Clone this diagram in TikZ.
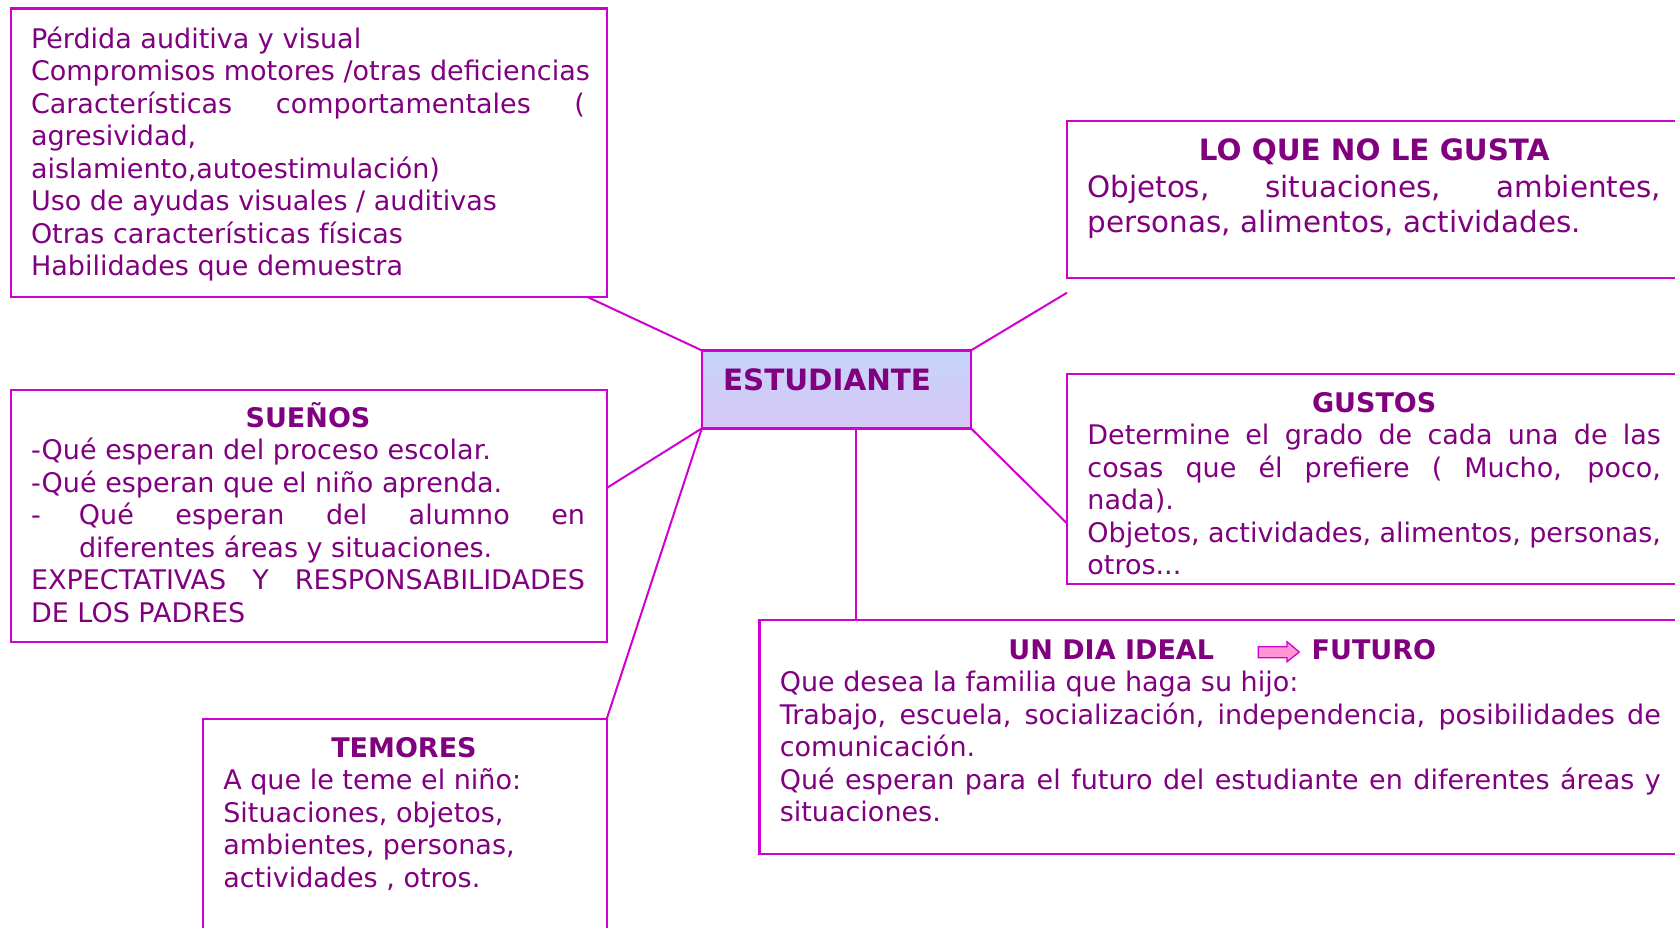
\documentclass[tikz,border=0pt]{standalone}
\usepackage{fontspec}
\setmainfont{DejaVu Sans}
\definecolor{mag}{RGB}{208,0,208}
\definecolor{purp}{RGB}{128,0,128}
\definecolor{cenA}{RGB}{196,214,250}
\definecolor{cenB}{RGB}{214,200,246}
\definecolor{arrfill}{RGB}{255,150,210}
\newcommand\jl[2]{\makebox[#1pt][s]{#2}}
\newcommand\fst[1]{\rule{0pt}{#1pt}}
\tikzset{
  box/.style={draw=mag, line width=2.2pt, rectangle, inner sep=0pt, outer sep=0pt, anchor=north west},
  body/.style={text=purp, align=left, inner sep=0pt, outer sep=0pt, anchor=north west, font=\fontsize{27}{32.5}\selectfont},
  bigbody/.style={body, font=\fontsize{29.4}{35.2}\selectfont},
  ttl/.style={text=purp, inner sep=0pt, outer sep=0pt, anchor=base, font=\bfseries\fontsize{27}{32.5}\selectfont},
  bigttl/.style={ttl, font=\bfseries\fontsize{29.4}{35.2}\selectfont},
  conn/.style={draw=mag, line width=2pt}
}
\begin{document}
\begin{tikzpicture}[x=1pt,y=-1pt]
\useasboundingbox (0,0) rectangle (1675,928);
\clip (0,0) rectangle (1675,928);

% boxes
\node[box, minimum width=596pt, minimum height=288.5pt] (b1) at (10.7,8.5) {};
\node[box, minimum width=623pt, minimum height=157pt] (blo) at (1067,120.7) {};
\node[box, minimum width=623pt, minimum height=210pt] (bgu) at (1067,374) {};
\node[box, minimum width=596pt, minimum height=252pt] (bsu) at (10.7,390) {};
\node[box, minimum width=403.7pt, minimum height=240pt] (bte) at (203,719) {};
\node[box, minimum width=930pt, minimum height=234pt] (bun) at (759.5,619.6) {};
\node[box, minimum width=269.2pt, minimum height=78pt, top color=cenA, bottom color=cenB, middle color=cenB!60!cenA] (cen) at (701.8,350.4) {};

% connectors
\coordinate (loend) at (1067,292.7);
\coordinate (c6a) at ([xshift=19.2pt]cen.south);
\draw[conn] (cen.north west) -- ([xshift=-19.2pt]b1.south east);
\draw[conn] (cen.north east) -- (loend);
\draw[conn] (cen.south east) -- ([yshift=-149.4pt]bgu.north west);
\draw[conn] (cen.south west) -- ([yshift=-98pt]bsu.north east);
\draw[conn] (cen.south west) -- (bte.north east);
\draw[conn] (c6a) -- (c6a |- bun.north);

% center label
\node[bigttl, anchor=base west] (est) at (723,390.7) {ESTUDIANTE};

\begin{scope}[yshift=-2.5pt]
% box 1
\node[body] (t1) at (31,18.8) {\fst{27}Pérdida auditiva y visual\\
Compromisos motores /otras deficiencias\\
\jl{554}{Características comportamentales (}\\
agresividad,\\
aislamiento,autoestimulación)\\
Uso de ayudas visuales / auditivas\\
Otras características físicas\\
Habilidades que demuestra};

% lo que no le gusta
\node[bigttl] (tlo) at (1374.2,158.5) {LO QUE NO LE GUSTA};
\node[bigbody] (blotxt) at (1087.4,165.5) {\fst{29}\jl{573.6}{Objetos, situaciones, ambientes,}\\
personas, alimentos, actividades.};

% gustos
\node[ttl] (tgu) at (1374.2,409.6) {GUSTOS};
\node[body] (bgutxt) at (1087.4,415) {\fst{27}\jl{573.6}{Determine el grado de cada una de las}\\
\jl{573.6}{cosas que él prefiere ( Mucho, poco,}\\
nada).\\
\jl{573.6}{Objetos, actividades, alimentos, personas,}\\
otros...};

% suenos
\node[ttl] (tsu) at (308,425) {SUEÑOS};
\node[body] (bsutxt) at (31,430.4) {\fst{27}-Qué esperan del proceso escolar.\\
-Qué esperan que el niño aprenda.\\
\makebox[48pt][l]{-}\jl{506}{Qué esperan del alumno en}\\
\hspace*{48pt}diferentes áreas y situaciones.\\
\jl{554}{EXPECTATIVAS Y RESPONSABILIDADES}\\
DE LOS PADRES};

% temores
\node[ttl] (tte) at (404,755) {TEMORES};
\node[body] (btetxt) at (223.3,760.4) {\fst{27}A que le teme el niño:\\
Situaciones, objetos,\\
ambientes, personas,\\
actividades , otros.};

% un dia ideal
\node[ttl, anchor=base west] (tun) at (1008.4,656.8) {UN DIA IDEAL};
\node[ttl, anchor=base west] (tfu) at (1311.7,656.8) {FUTURO};
\node[body] (buntxt) at (779.8,662.2) {\fst{27}Que desea la familia que haga su hijo:\\
\jl{881}{Trabajo, escuela, socialización, independencia, posibilidades de}\\
comunicación.\\
\jl{881}{Qué esperan para el futuro del estudiante en diferentes áreas y}\\
situaciones.};
\end{scope}
\draw[draw=mag, fill=arrfill, line width=1.3pt, line join=miter]
  (1258.3,646.7) -- (1287,646.7) -- (1287,641.7) -- (1299.3,652) -- (1287,661.7) -- (1287,657.7) -- (1258.3,657.7) -- cycle;
\end{tikzpicture}
\end{document}
